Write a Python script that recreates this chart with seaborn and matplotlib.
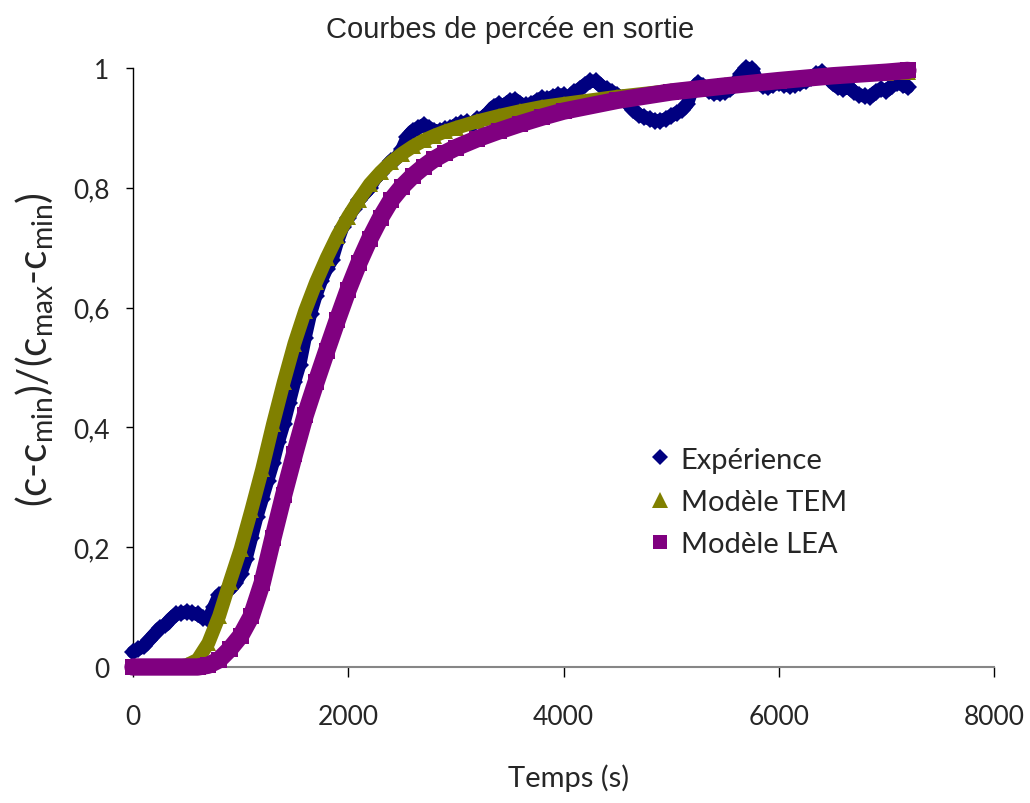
import numpy as np
import pandas as pd
import matplotlib
matplotlib.use("Agg")
import matplotlib.pyplot as plt
from matplotlib.lines import Line2D
import seaborn as sns

# ---------------- data ----------------
exp_t = list(range(0, 7201, 50))
exp_v = [0.025, 0.03, 0.035, 0.045, 0.055, 0.065, 0.07, 0.08, 0.088, 0.09,
         0.092, 0.09, 0.088, 0.082, 0.08, 0.1, 0.12, 0.125, 0.13, 0.14,
         0.155, 0.18, 0.215, 0.25, 0.28, 0.31, 0.34, 0.375, 0.405, 0.44,
         0.475, 0.505, 0.55, 0.59, 0.62, 0.645, 0.665, 0.68, 0.71, 0.735,
         0.75, 0.765, 0.78, 0.79, 0.8, 0.815, 0.825, 0.835, 0.845, 0.85,
         0.865, 0.885, 0.895, 0.9, 0.905, 0.9, 0.895, 0.895, 0.898, 0.9,
         0.905, 0.908, 0.91, 0.905, 0.915, 0.917, 0.925, 0.935, 0.94, 0.937,
         0.945, 0.947, 0.94, 0.938, 0.94, 0.945, 0.95, 0.948, 0.952, 0.955,
         0.955, 0.95, 0.96, 0.965, 0.972, 0.978, 0.978, 0.97, 0.965, 0.96,
         0.955, 0.95, 0.94, 0.93, 0.922, 0.918, 0.915, 0.912, 0.912, 0.915,
         0.92, 0.925, 0.93, 0.94, 0.965, 0.975, 0.97, 0.962, 0.958, 0.958,
         0.96, 0.965, 0.975, 0.99, 1.0, 0.998, 0.98, 0.97, 0.968, 0.972,
         0.975, 0.972, 0.97, 0.972, 0.975, 0.978, 0.983, 0.99, 0.993, 0.985,
         0.975, 0.968, 0.965, 0.968, 0.96, 0.955, 0.953, 0.952, 0.96, 0.965,
         0.962, 0.97, 0.975, 0.972, 0.968]

tem_t = [0, 100, 200, 300, 400, 500, 600, 700, 800, 900, 1000, 1100, 1200, 1300,
         1400, 1500, 1600, 1700, 1800, 1900, 2000, 2100, 2200, 2300, 2400, 2500,
         2600, 2700, 2800, 2900, 3000, 3200, 3400, 3600, 3800, 4000, 4500, 5000,
         5500, 6000, 6500, 7000, 7200]
tem_v = [0.0, 0.0, 0.0, 0.0, 0.0, 0.003, 0.012, 0.04, 0.085, 0.142, 0.197, 0.262,
         0.33, 0.405, 0.475, 0.54, 0.595, 0.642, 0.683, 0.72, 0.752, 0.78, 0.806,
         0.826, 0.843, 0.857, 0.869, 0.879, 0.887, 0.894, 0.9, 0.911, 0.92, 0.928,
         0.935, 0.94, 0.952, 0.962, 0.971, 0.979, 0.986, 0.991, 0.993]

lea_t = [0, 100, 200, 300, 400, 500, 600, 700, 800, 900, 1000, 1100, 1200, 1300,
         1400, 1500, 1600, 1700, 1800, 1900, 2000, 2100, 2200, 2300, 2400, 2500,
         2600, 2700, 2800, 2900, 3000, 3200, 3400, 3600, 3800, 4000, 4500, 5000,
         5500, 6000, 6500, 7000, 7200]
lea_v = [0.0, 0.0, 0.0, 0.0, 0.0, 0.0, 0.0, 0.003, 0.012, 0.03, 0.052, 0.085,
         0.14, 0.215, 0.287, 0.355, 0.42, 0.475, 0.528, 0.58, 0.63, 0.675, 0.715,
         0.75, 0.78, 0.802, 0.82, 0.835, 0.848, 0.858, 0.867, 0.882, 0.895,
         0.907, 0.918, 0.928, 0.946, 0.96, 0.97, 0.979, 0.987, 0.993, 0.996]

series_names = ["Expérience", "Modèle TEM", "Modèle LEA"]
x_ticks = [0, 2000, 4000, 6000, 8000]
x_tick_labels = ["0", "2000", "4000", "6000", "8000"]
y_ticks = [0, 0.2, 0.4, 0.6, 0.8, 1.0]
y_tick_labels = ["0", "0,2", "0,4", "0,6", "0,8", "1"]

# ---------------- style ----------------
sns.set_theme(style="white")
plt.rcParams["font.family"] = ["Lato", "DejaVu Sans"]
plt.rcParams["mathtext.default"] = "regular"

C_EXP = "#000080"
C_TEM = "#808000"
C_LEA = "#800080"

fig = plt.figure(figsize=(10.30, 8.04), dpi=100)
ax = fig.add_axes([133 / 1030, 1 - 668 / 804, 861 / 1030, 599 / 804])

df_exp = pd.DataFrame({"t": exp_t, "v": exp_v})
df_tem = pd.DataFrame({"t": tem_t, "v": tem_v})
df_lea = pd.DataFrame({"t": lea_t, "v": lea_v})

sns.lineplot(data=df_exp, x="t", y="v", ax=ax, color=C_EXP, linewidth=9.5,
             marker="D", markersize=9.5, markeredgewidth=0, clip_on=False,
             legend=False, zorder=3)
sns.lineplot(data=df_tem, x="t", y="v", ax=ax, color=C_TEM, linewidth=10,
             marker="^", markersize=12, markeredgewidth=0, clip_on=False,
             legend=False, zorder=4)
sns.lineplot(data=df_lea, x="t", y="v", ax=ax, color=C_LEA, linewidth=12.5,
             marker="s", markersize=11, markeredgewidth=0, clip_on=False,
             legend=False, zorder=5)

ax.set_xlim(0, 8000)
ax.set_ylim(0, 1)
ax.set_xticks(x_ticks)
ax.set_xticklabels(x_tick_labels)
ax.set_yticks(y_ticks)
ax.set_yticklabels(y_tick_labels)

for s in ["top", "right"]:
    ax.spines[s].set_visible(False)
ax.spines["left"].set_color("black")
ax.spines["left"].set_linewidth(1.0)
ax.spines["bottom"].set_color("#868686")
ax.spines["bottom"].set_linewidth(1.5)
ax.spines["bottom"].set_zorder(2)

ax.tick_params(axis="x", direction="out", length=7, width=1, color="black",
               pad=20, labelsize=19, bottom=True)
ax.tick_params(axis="y", direction="out", length=5, width=1, color="black",
               pad=12, labelsize=19, left=True)
ax.grid(False)

ax.set_xlabel("Temps (s)", fontsize=21, va="center")
ax.xaxis.set_label_coords((569 - 133) / 861, (668 - 778) / 599)
ax.set_ylabel(r"(c-c$_{\mathregular{min}}$)/(c$_{\mathregular{max}}$-c$_{\mathregular{min}}$)",
              fontsize=29, va="center")
ax.yaxis.set_label_coords((35 - 133) / 861, (668 - 350) / 599)

fig.text(510 / 1030, 1 - 30 / 804, "Courbes de percée en sortie",
         ha="center", va="center", fontsize=21,
         family=["Liberation Sans", "DejaVu Sans"])

handles = [
    Line2D([], [], color=C_EXP, marker="D", linestyle="none", markersize=8, markeredgewidth=0),
    Line2D([], [], color=C_TEM, marker="^", linestyle="none", markersize=11, markeredgewidth=0),
    Line2D([], [], color=C_LEA, marker="s", linestyle="none", markersize=9.5, markeredgewidth=0),
]
leg = ax.legend(handles, series_names, loc="center left", frameon=False,
                bbox_to_anchor=((637 - 133) / 861, (668 - 503) / 599),
                fontsize=21, handlelength=0.6, handletextpad=0.4,
                labelspacing=0.56, borderpad=0)

fig.savefig("out.png", dpi=100, facecolor="white")
